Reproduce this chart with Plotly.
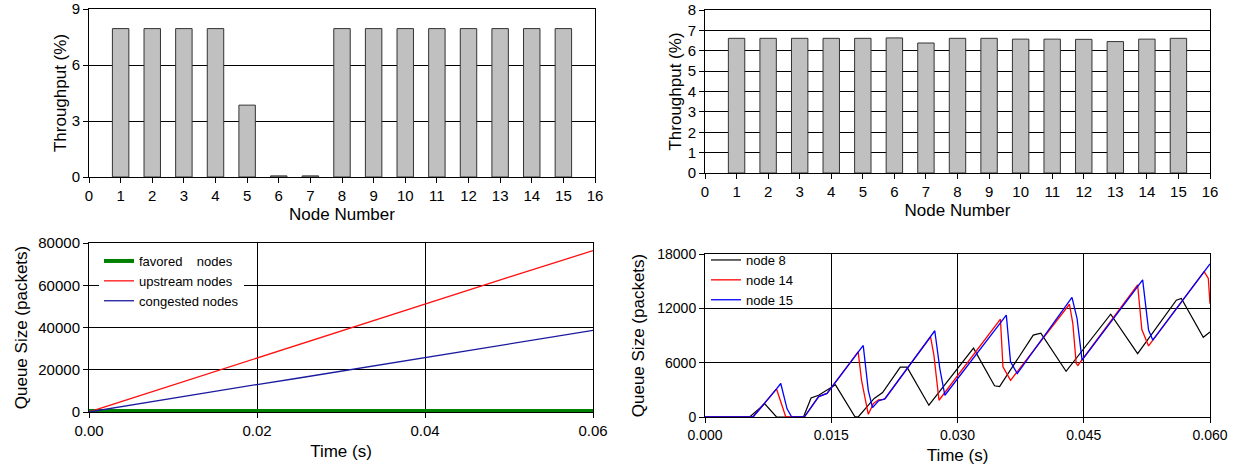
import plotly.graph_objects as go

# ---------------- data ----------------
nodes = list(range(1, 16))
node_ticks = list(range(0, 17))
thr_left = [7.95, 7.95, 7.95, 7.95, 3.85, 0.06, 0.06, 7.95, 7.95, 7.95, 7.95, 7.95, 7.95, 7.95, 7.95]
thr_right = [6.61, 6.61, 6.61, 6.61, 6.61, 6.63, 6.38, 6.61, 6.61, 6.57, 6.57, 6.56, 6.45, 6.57, 6.61]
thr_left_ticks = [0, 3, 6, 9]
thr_right_ticks = [0, 1, 2, 3, 4, 5, 6, 7, 8]

t_left = [0.0, 0.005, 0.01, 0.015, 0.02, 0.025, 0.03, 0.035, 0.04, 0.045, 0.05, 0.055, 0.06]
q_favored = [500, 500, 500, 500, 500, 500, 500, 500, 500, 500, 500, 500, 500]
q_upstream = [0, 6400, 12900, 19100, 25600, 31900, 38300, 44800, 51000, 57500, 63800, 70100, 76400]
q_congested = [0, 3300, 6500, 9700, 13000, 16100, 19300, 22600, 25800, 29000, 32200, 35400, 38600]
t_left_ticks = [0.0, 0.02, 0.04, 0.06]
q_left_ticks = [0, 20000, 40000, 60000, 80000]

t_n8 = [0.0, 0.0053, 0.0071, 0.0085, 0.0117, 0.0126, 0.0135, 0.0155, 0.0178, 0.0182,
        0.0201, 0.0211, 0.0232, 0.0240, 0.0266, 0.0319, 0.0344, 0.0350, 0.0390, 0.0399,
        0.0429, 0.0482, 0.0514, 0.0560, 0.0566, 0.0592, 0.0600]
q_n8 = [0, 0, 1450, 0, 0, 2100, 2400, 3550, 50, 0,
        2050, 2700, 5500, 5500, 1300, 7600, 3450, 3350, 9050, 9250,
        5050, 11350, 7000, 12900, 13100, 8800, 9400]

t_n14 = [0.0, 0.0057, 0.0085, 0.0096, 0.0118, 0.0135, 0.0145, 0.0182, 0.0186, 0.0194,
         0.0200, 0.0206, 0.0213, 0.0268, 0.0272, 0.0278, 0.0351, 0.0354, 0.0363, 0.0433,
         0.0437, 0.0441, 0.0443, 0.0514, 0.0519, 0.0527, 0.0593, 0.0598, 0.0600]
q_n14 = [0, 0, 3100, 0, 0, 2250, 2600, 7200, 4050, 300,
         1480, 1900, 1950, 8850, 6800, 1850, 10800, 5550, 4050, 12450,
         10350, 5900, 5700, 14600, 9650, 7850, 16050, 15300, 12500]

t_n15 = [0.0, 0.0057, 0.0085, 0.0090, 0.00975, 0.0103, 0.0118, 0.0135, 0.0145, 0.0182,
         0.0188, 0.0194, 0.0199, 0.0206, 0.0214, 0.0273, 0.0279, 0.0285, 0.0358, 0.0363,
         0.0371, 0.0436, 0.0442, 0.0448, 0.0520, 0.0527, 0.0532, 0.0600]
q_n15 = [0, 0, 3100, 3700, 900, 0, 0, 2250, 2600, 7200,
         7900, 2950, 1030, 1770, 2030, 9525, 5350, 2400, 11260, 6100,
         4800, 13200, 10900, 6280, 15140, 9600, 8490, 16900]
t_right_ticks = [0.0, 0.015, 0.03, 0.045, 0.06]
q_right_ticks = [0, 6000, 12000, 18000]

# ---------------- figure ----------------
FONT = "Liberation Sans, Arial, sans-serif"
fig = go.Figure()

bar_style = dict(marker=dict(color="#C0C0C0", line=dict(color="#333333", width=1)), width=0.52, showlegend=False)
fig.add_trace(go.Bar(x=nodes, y=thr_left, xaxis="x", yaxis="y", **bar_style))
fig.add_trace(go.Bar(x=nodes, y=thr_right, xaxis="x2", yaxis="y2", **bar_style))

fig.add_trace(go.Scatter(x=t_left, y=q_favored, xaxis="x3", yaxis="y3", mode="lines",
                         name="favored\u00a0\u00a0\u00a0\u00a0nodes", line=dict(color="#008000", width=4), legend="legend"))
fig.add_trace(go.Scatter(x=t_left, y=q_upstream, xaxis="x3", yaxis="y3", mode="lines",
                         name="upstream nodes", line=dict(color="#FF1010", width=1.3), legend="legend"))
fig.add_trace(go.Scatter(x=t_left, y=q_congested, xaxis="x3", yaxis="y3", mode="lines",
                         name="congested nodes", line=dict(color="#1A1AA0", width=1.3), legend="legend"))

fig.add_trace(go.Scatter(x=t_n8, y=q_n8, xaxis="x4", yaxis="y4", mode="lines",
                         name="node 8", line=dict(color="#000000", width=1.2), legend="legend2"))
fig.add_trace(go.Scatter(x=t_n14, y=q_n14, xaxis="x4", yaxis="y4", mode="lines",
                         name="node 14", line=dict(color="#FF0000", width=1.3), legend="legend2"))
fig.add_trace(go.Scatter(x=t_n15, y=q_n15, xaxis="x4", yaxis="y4", mode="lines",
                         name="node 15", line=dict(color="#0000FF", width=1.3), legend="legend2"))

W, H = 1244, 468
def px_x(a, b):
    return [a / W, b / W]
def px_y(top, bottom):
    return [1 - bottom / H, 1 - top / H]

def tf(size):
    return dict(family=FONT, size=size, color="black")
titlefont = dict(family=FONT, size=17, color="black")
common = dict(showline=True, linecolor="black", linewidth=1, mirror=True, ticks="outside",
              ticklen=5, tickcolor="black", zeroline=False, automargin=False, tickmode="array",
              ticklabeloverflow="allow")
grid = dict(showgrid=True, gridcolor="black", gridwidth=1)

fig.update_layout(
    width=W, height=H, template="none",
    margin=dict(l=0, r=0, t=0, b=0),
    paper_bgcolor="white", plot_bgcolor="white",
    font=dict(family=FONT, color="black"),
    xaxis=dict(domain=px_x(89, 595), anchor="y", range=[0, 16], tickvals=node_ticks, showgrid=False,
               tickfont=tf(15), title=dict(text="Node Number", font=titlefont, standoff=5), **common),
    yaxis=dict(domain=px_y(9, 177), anchor="x", range=[0, 9], tickvals=thr_left_ticks, tickfont=tf(15),
               title=dict(text="Throughput (%)", font=titlefont, standoff=0), **grid, **common),
    xaxis2=dict(domain=px_x(705, 1210), anchor="y2", range=[0, 16], tickvals=node_ticks, showgrid=False,
                tickfont=tf(15), title=dict(text="Node Number", font=titlefont, standoff=5), **common),
    yaxis2=dict(domain=px_y(10, 173), anchor="x2", range=[0, 8], tickvals=thr_right_ticks, tickfont=tf(15),
                title=dict(text="Throughput (%)", font=titlefont, standoff=1), **grid, **common),
    xaxis3=dict(domain=px_x(89, 593), anchor="y3", range=[0, 0.06], tickvals=t_left_ticks, tickformat=".2f",
                tickfont=tf(15), title=dict(text="Time (s)", font=titlefont, standoff=7), **grid, **common),
    yaxis3=dict(domain=px_y(243, 412), anchor="x3", range=[0, 80000], tickvals=q_left_ticks, tickformat="d",
                tickfont=tf(15), title=dict(text="Queue Size (packets)", font=titlefont, standoff=6), **grid, **common),
    xaxis4=dict(domain=px_x(705, 1210), anchor="y4", range=[0, 0.06], tickvals=t_right_ticks, tickformat=".3f",
                tickfont=tf(14), title=dict(text="Time (s)", font=titlefont, standoff=7), **grid, **common),
    yaxis4=dict(domain=px_y(254, 417), anchor="x4", range=[0, 18000], tickvals=q_right_ticks, tickformat="d",
                tickfont=tf(14), title=dict(text="Queue Size (packets)", font=titlefont, standoff=8), **grid, **common),
    legend=dict(x=99 / W, y=1 - 246 / H, xanchor="left", yanchor="top", bgcolor="white",
                borderwidth=0, font=dict(family=FONT, size=13, color="black"),
                tracegroupgap=0, itemwidth=30),
    legend2=dict(x=706 / W, y=1 - 245 / H, xanchor="left", yanchor="top", bgcolor="rgba(0,0,0,0)",
                 borderwidth=0, font=dict(family=FONT, size=13, color="black"),
                 tracegroupgap=0, itemwidth=30),
)

fig.write_html("out.html", config={"displayModeBar": False},
               post_script="document.body.style.margin='0';document.body.style.overflow='hidden';")
